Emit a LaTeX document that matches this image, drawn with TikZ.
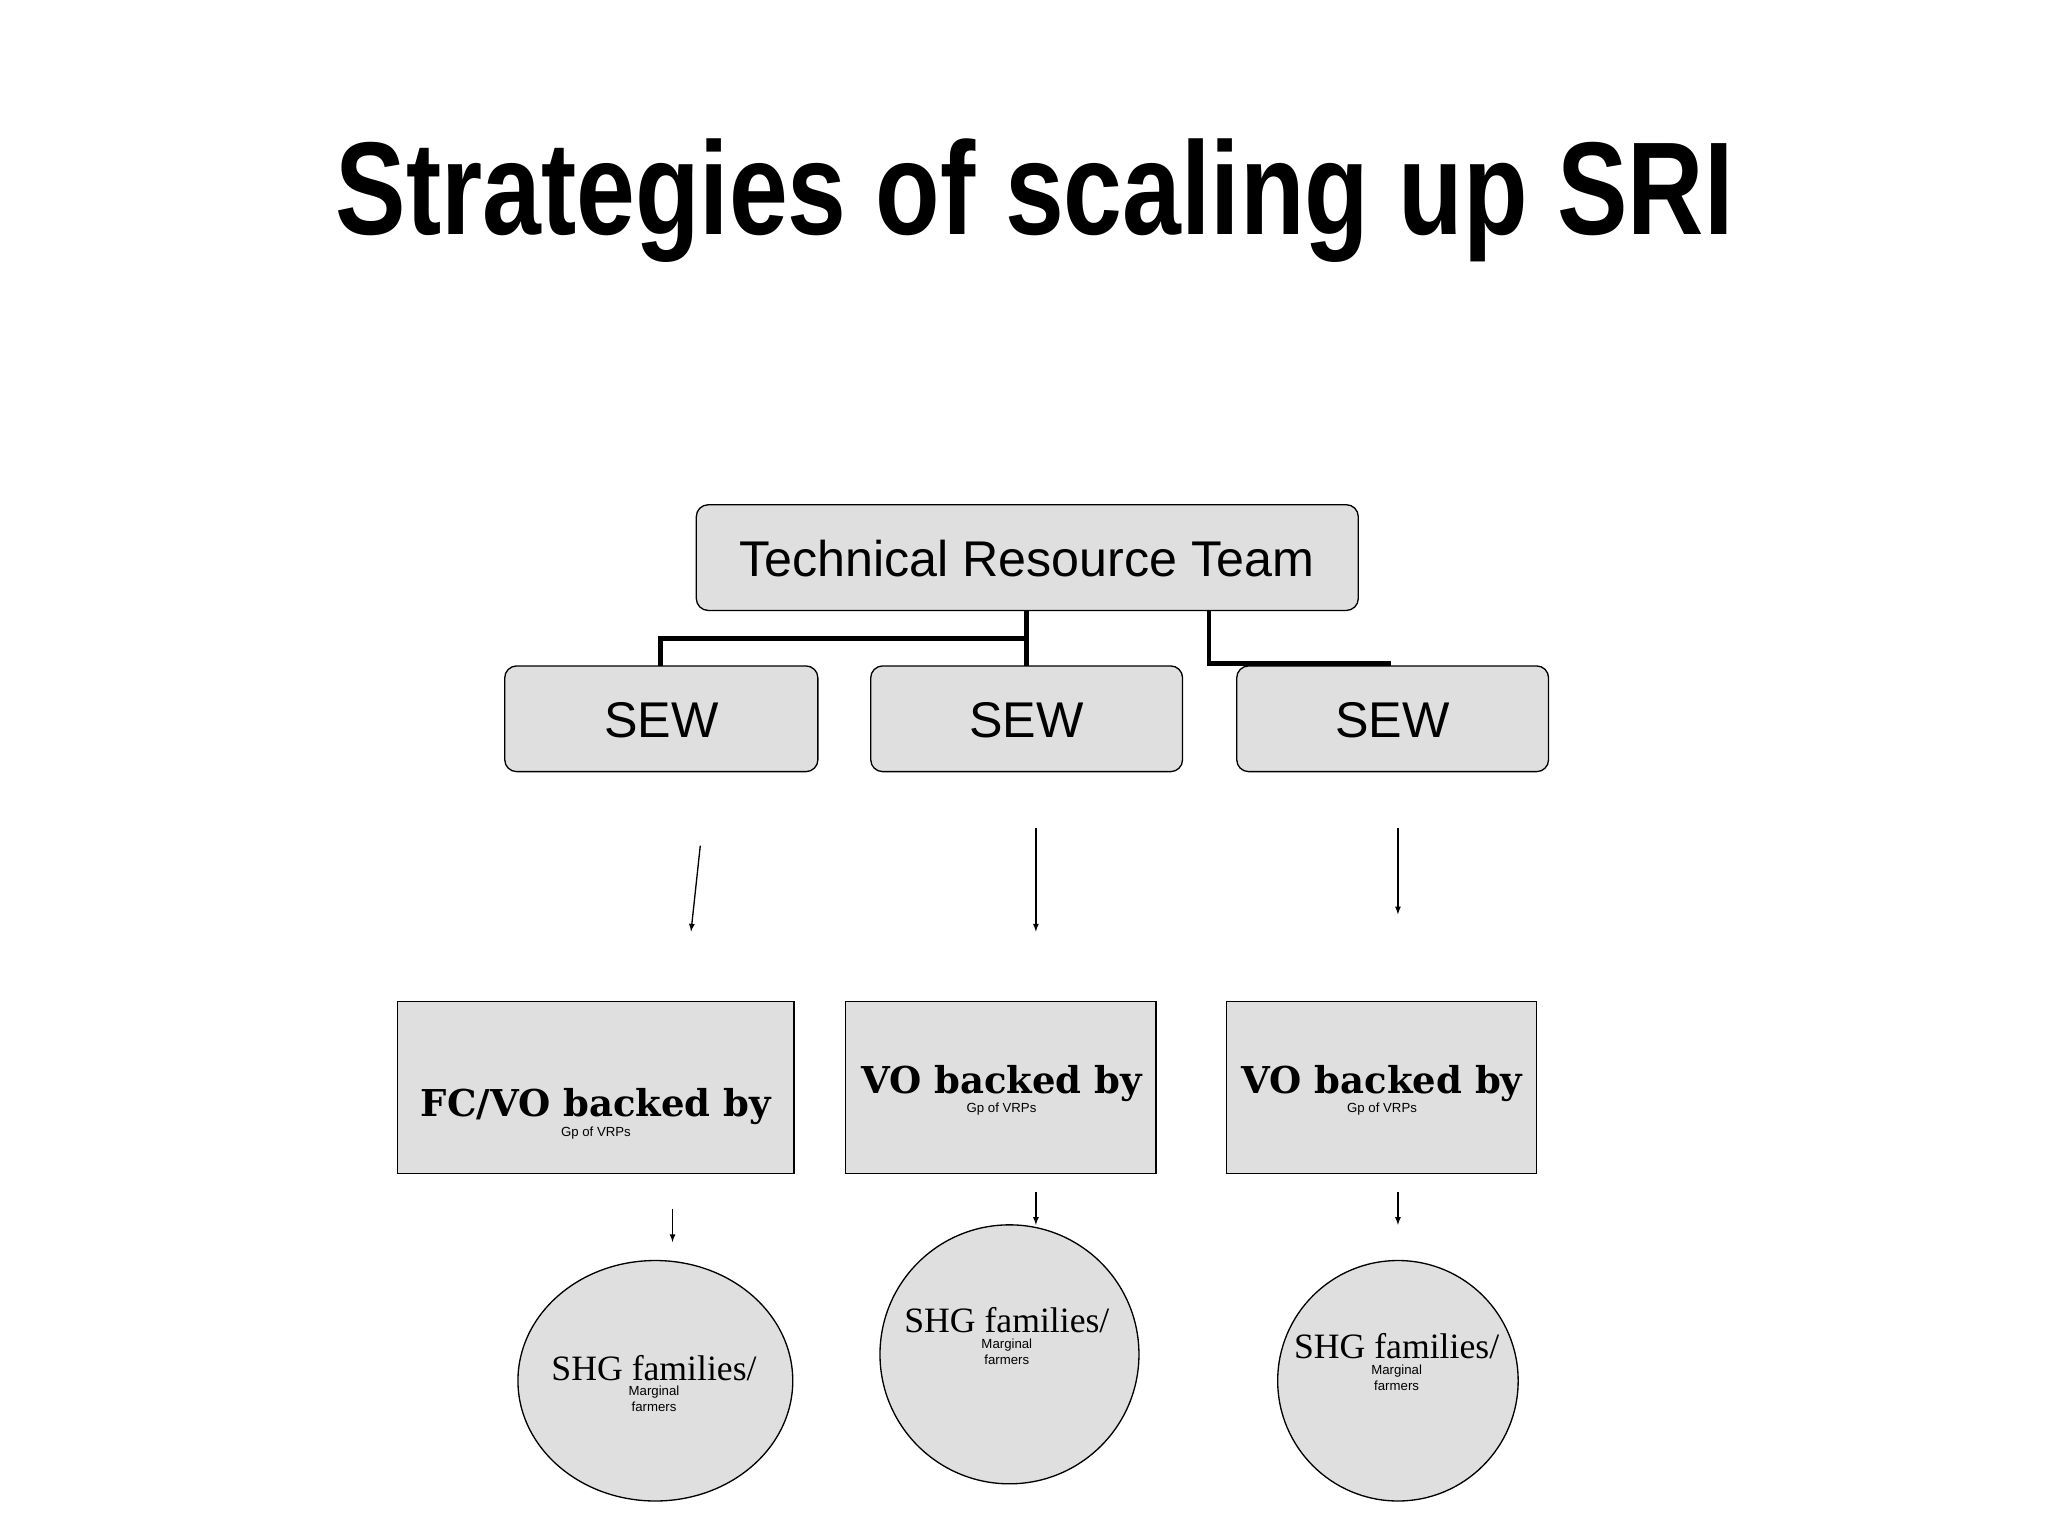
\documentclass[tikz,border=0pt]{standalone}
\usepackage{fontspec}
\setmainfont{Liberation Sans}
\newfontfamily\titlefont[FakeStretch=0.8]{Liberation Sans Bold}
\newfontfamily\boxserif{DejaVu Serif}
\newfontfamily\circserif{Liberation Serif}
\usetikzlibrary{shapes.geometric}
\begin{document}
\begin{tikzpicture}[x=1pt,y=-1pt,
  rbox/.style={draw,fill=gray!25,rounded corners=9pt,line width=1pt},
  sbox/.style={draw,fill=gray!25,line width=1pt},
  conn/.style={line width=3.5pt},
  arr/.style={-latex,line width=1pt},
  circ/.style={draw,fill=gray!25,ellipse,line width=1pt}]
\useasboundingbox (0,0) rectangle (1550,1162);
\node (title) at (783,152) {\titlefont\fontsize{100}{110}\selectfont Strategies of scaling up SRI};
\draw[rbox] (527,382) rectangle (1028,462);
\node (trt) at (777,423) {\fontsize{38}{44}\selectfont Technical Resource Team};
\foreach \i/\a/\b in {1/382/619,2/659/895,3/936/1172}{
  \draw[rbox] (\a,504) rectangle (\b,584);
  \node (sew\i) at ({(\a+\b)/2},545) {\fontsize{38}{44}\selectfont SEW};
}
\coordinate (t1) at (777,462); \coordinate (t2) at (915,462);
\draw[conn] (t1) -- (777,504);
\draw[conn] (777,483) -- (500,483) -- (500,504);
\draw[conn] (t2) -- (915,502) -- (1053,502);
\coordinate (a1) at (530,640); \coordinate (b1) at (523,705);
\coordinate (a2) at (784,627); \coordinate (b2) at (784,705);
\coordinate (a3) at (1058,627); \coordinate (b3) at (1058,692);
\draw[arr] (a1) -- (b1); \draw[arr] (a2) -- (b2); \draw[arr] (a3) -- (b3);
\draw[sbox] (301,758) rectangle (601,888);
\draw[sbox] (640,758) rectangle (875,888);
\draw[sbox] (928,758) rectangle (1163,888);
\node[align=center] (v1) at (451,843) {\boxserif\bfseries\fontsize{28}{36}\selectfont FC/VO backed by\\Gp of VRPs};
\node[align=center] (v2) at (758,825) {\boxserif\bfseries\fontsize{28}{36}\selectfont VO backed by\\Gp of VRPs};
\node[align=center] (v3) at (1046,825) {\boxserif\bfseries\fontsize{28}{36}\selectfont VO backed by\\Gp of VRPs};
\coordinate (c1) at (509,915); \coordinate (d1) at (509,940);
\coordinate (c2) at (784,902); \coordinate (d2) at (784,927);
\coordinate (c3) at (1058,902); \coordinate (d3) at (1058,927);
\draw[arr] (c1) -- (d1); \draw[arr] (c2) -- (d2); \draw[arr] (c3) -- (d3);
\node[circ,minimum width=208pt,minimum height=182pt] (e1) at (496,1045) {};
\node[circ,minimum width=196pt,minimum height=196pt] (e2) at (764,1025) {};
\node[circ,minimum width=182pt,minimum height=182pt] (e3) at (1058,1045) {};
\node[align=center] (s1) at (495,1047) {\circserif\fontsize{27}{31}\selectfont SHG families/\\Marginal\\farmers};
\node[align=center] (s2) at (762,1011) {\circserif\fontsize{27}{31}\selectfont SHG families/\\Marginal\\farmers};
\node[align=center] (s3) at (1057,1031) {\circserif\fontsize{27}{31}\selectfont SHG families/\\Marginal\\farmers};
\end{tikzpicture}
\end{document}
